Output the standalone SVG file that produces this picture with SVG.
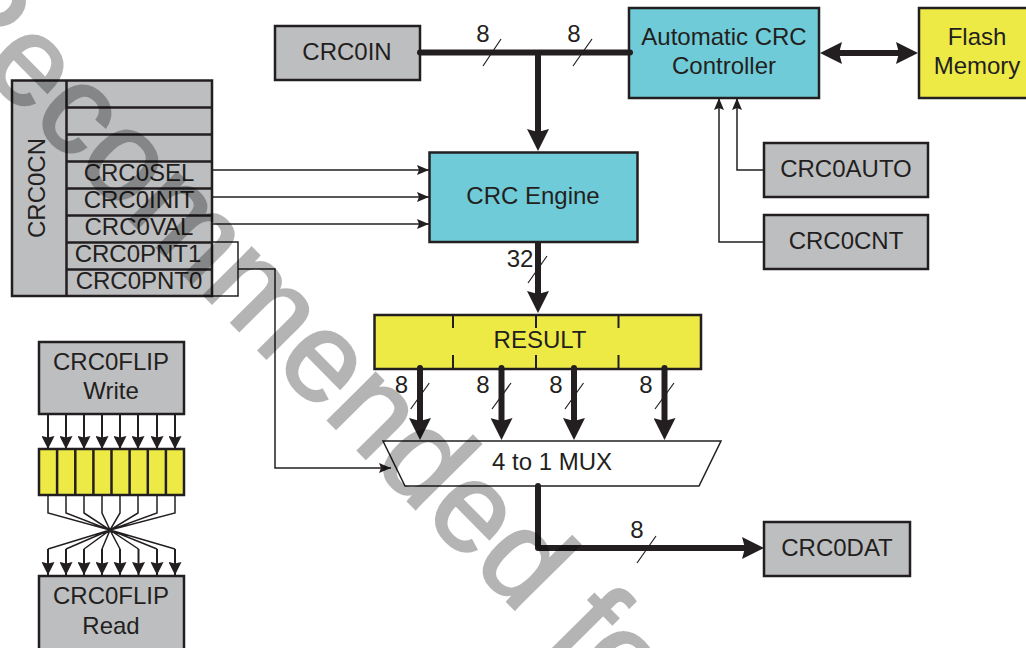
<svg xmlns="http://www.w3.org/2000/svg" width="1026" height="648" viewBox="0 0 1026 648">
<style>
text{font-family:"Liberation Sans",Arial,sans-serif;font-size:24px;fill:#231f20;text-anchor:middle}
.g{fill:#bdbec0;stroke:#231f20;stroke-width:2.5}
.t{fill:#6fcbd8;stroke:#231f20;stroke-width:2.5}
.y{fill:#eeea45;stroke:#231f20;stroke-width:2.5}
.w{fill:#fff;stroke:#231f20;stroke-width:1.5}
.l{fill:none;stroke:#231f20;stroke-width:1.5}
.n{fill:none;stroke:#231f20;stroke-width:2}
.s{fill:none;stroke:#231f20;stroke-width:1.2}
.b{fill:none;stroke:#231f20;stroke-width:6;stroke-linejoin:round;stroke-linecap:round}
.ba{marker-end:url(#big)}
.th{marker-end:url(#thin)}
.fl{marker-end:url(#flip)}
.wm{font-size:127px;fill:#000;stroke:#000;stroke-width:2.5;opacity:.29;text-anchor:start}
</style>
<defs>
<marker id="big" markerUnits="userSpaceOnUse" viewBox="0 0 22 22" markerWidth="22" markerHeight="22" refX="6" refY="11" orient="auto-start-reverse"><path d="M0 0L22 11L0 22L3 11z" fill="#231f20"/></marker>
<marker id="thin" markerUnits="userSpaceOnUse" viewBox="0 0 12 10" markerWidth="12" markerHeight="10" refX="12" refY="5" orient="auto"><path d="M0 0L12 5L0 10L2 5z" fill="#231f20"/></marker>
<marker id="flip" markerUnits="userSpaceOnUse" viewBox="0 0 13 13" markerWidth="13" markerHeight="13" refX="13" refY="6.5" orient="auto"><path d="M0 0L13 6.5L0 13L1.500 6.500z" fill="#231f20"/></marker>
</defs>

<g id="crc0cn">
<rect class="g" x="12" y="80.500" width="200" height="215.500"/>
<path class="n" d="M66.500 80.500V296M66.500 107.500H212M66.500 134.500H212M66.500 161.500H212M66.500 188.500H212M66.500 215.500H212M66.500 242.500H212M66.500 269.500H212" style="stroke-width:2.500"/>
<text transform="translate(45,188) rotate(-90)">CRC0CN</text>
<text x="139" y="181">CRC0SEL</text>
<text x="139" y="208">CRC0INIT</text>
<text x="139" y="235">CRC0VAL</text>
<text x="138" y="262">CRC0PNT1</text>
<text x="139" y="289">CRC0PNT0</text>
</g>
<g id="crc0in"><rect class="g" x="275" y="26" width="145" height="54"/><text x="347" y="60">CRC0IN</text></g>
<g id="auto-ctrl"><rect class="t" x="629" y="8" width="190" height="90"/><text x="724" y="45">Automatic CRC</text><text x="724" y="74">Controller</text></g>
<g id="flash"><rect class="y" x="919" y="8" width="112" height="90"/><text x="977" y="45">Flash</text><text x="977" y="74">Memory</text></g>
<g id="engine"><rect class="t" x="429.500" y="152.500" width="208" height="89.500"/><text x="533" y="204">CRC Engine</text></g>
<g id="crc0auto"><rect class="g" x="764" y="143" width="164" height="54"/><text x="846" y="177">CRC0AUTO</text></g>
<g id="crc0cnt"><rect class="g" x="764" y="215" width="164" height="54"/><text x="846" y="249">CRC0CNT</text></g>
<g id="result"><rect class="y" x="374.500" y="315" width="326.500" height="54"/>
<path class="n" d="M453 315V328M536 315V328M618.500 315V328M453 355V369M536 355V369M618.500 355V369"/>
<text x="540" y="348">RESULT</text></g>
<g id="mux"><path class="w" d="M383 441H721L699 486H405z"/><text x="492" y="470" style="text-anchor:start">4 to 1 MUX</text></g>
<g id="crc0dat"><rect class="g" x="764" y="522" width="146" height="54"/><text x="837" y="556">CRC0DAT</text></g>
<g id="flip-write"><rect class="g" x="39" y="342" width="145" height="72"/><text x="111" y="370">CRC0FLIP</text><text x="111" y="399">Write</text></g>
<g id="flip-reg"><rect class="y" x="39" y="449" width="145" height="46"/>
<path class="n" d="M57.100 449V495M75.300 449V495M93.400 449V495M111.500 449V495M129.600 449V495M147.800 449V495M165.900 449V495" style="stroke-width:2.500"/></g>
<g id="flip-read"><rect class="g" x="39" y="576" width="145" height="76"/><text x="111" y="604">CRC0FLIP</text><text x="111" y="634">Read</text></g>

<g id="connectors">
<path class="l th" d="M212 170H429"/>
<path class="l th" d="M212 197H429"/>
<path class="l th" d="M212 224H429"/>
<path class="l" d="M212 242H238V296H212"/>
<path class="l th" d="M238 269H275V468H391"/>
<path class="l th" d="M764 170H737V98"/>
<path class="l th" d="M764 242H719V98"/>
<path class="b" d="M420 52.500H630"/>
<path class="b ba" style="stroke-linecap:butt" d="M538 52.500V135"/>
<path class="b" style="marker-start:url(#big);marker-end:url(#big);stroke-linecap:butt" d="M836 53H902"/>
<path class="b ba" style="stroke-linecap:butt" d="M538 242V297"/>
<path class="b ba" d="M420 368V424"/>
<path class="b ba" d="M501.500 368V424"/>
<path class="b ba" d="M574 368V424"/>
<path class="b ba" d="M664.500 368V424"/>
<path class="b ba" d="M538 486V548H748"/>
<path class="s" d="M483 66L501 39M573 66L592 39M528 283L547 256M410.700 409L429.300 383M492 409L511 383M565 409L583.500 383M655 409L674 383M637 563L656 536"/>
<g id="flip-in">
<path class="n fl" d="M48 414V449"/><path class="n fl" d="M66 414V449"/><path class="n fl" d="M84 414V449"/><path class="n fl" d="M102 414V449"/><path class="n fl" d="M120 414V449"/><path class="n fl" d="M138 414V449"/><path class="n fl" d="M157 414V449"/><path class="n fl" d="M175 414V449"/>
</g>
<g id="flip-cross">
<path class="l" d="M48 495V513L110 530L48 549M66 495V513L110 530L66 549M84 495V513L110 530L84 549M102 495V513L110 530L102 549M120 495V513L110 530L120 549M138 495V513L110 530L138.500 549M157 495V513L110 530L157 549M175 495V513L110 530L175 549"/>
<path class="n fl" d="M48 549V575"/><path class="n fl" d="M66 549V575"/><path class="n fl" d="M84 549V575"/><path class="n fl" d="M102 549V575"/><path class="n fl" d="M120 549V575"/><path class="n fl" d="M138.500 549V575"/><path class="n fl" d="M157 549V575"/><path class="n fl" d="M175 549V575"/>
</g>
</g>
<g id="bus-labels">
<text x="483" y="42">8</text><text x="574" y="42">8</text><text x="520" y="267">32</text>
<text x="401.500" y="393">8</text><text x="483" y="393">8</text><text x="556" y="393">8</text><text x="646" y="393">8</text>
<text x="637" y="538">8</text>
</g>
<text class="wm" transform="translate(-85,3) rotate(45.3)">Recommended for</text>
</svg>
